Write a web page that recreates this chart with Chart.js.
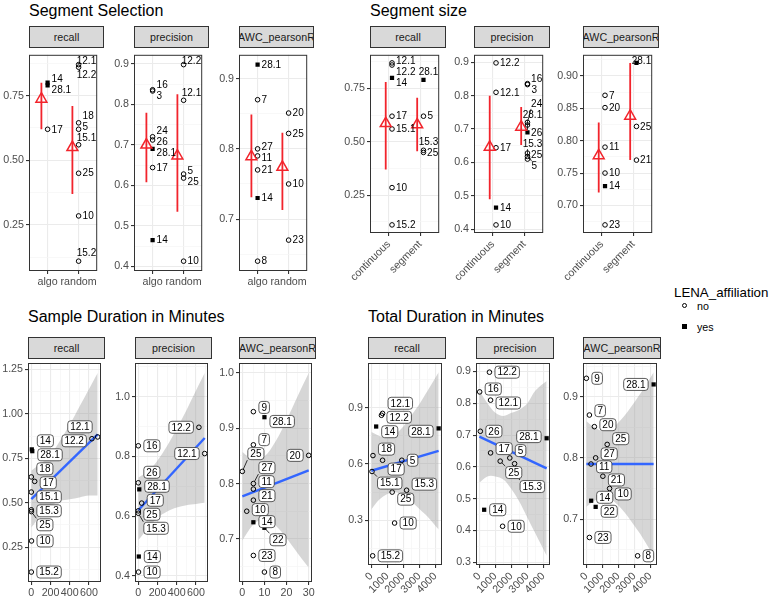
<!DOCTYPE html>
<html>
<head>
<meta charset="utf-8">
<title>LENA segment metrics</title>
<script src="https://cdn.jsdelivr.net/npm/chart.js@4.4.1/dist/chart.umd.min.js"></script>
<style>
  html, body { margin: 0; padding: 0; background: #fff; }
  body { position: relative; width: 774px; height: 598px; overflow: hidden;
         font-family: "Liberation Sans", Arial, sans-serif; }
  canvas { position: absolute; }
  .title { position: absolute; font-size: 16px; line-height: 18px; color: #000; white-space: nowrap; }
  .strip { position: absolute; box-sizing: border-box; height: 22px; background: #D9D9D9;
           border: 1px solid #333; overflow: hidden; }
  .strip span { position: absolute; left: 50%; top: 50%; transform: translate(-50%, -50%);
                font-size: 10.7px; color: #1A1A1A; white-space: nowrap; }
  .leg-title { position: absolute; left: 674px; top: 284px; font-size: 13.3px; line-height: 18px; }
  .leg-label { position: absolute; left: 697px; font-size: 10.7px; line-height: 14px; }
  .key { position: absolute; box-sizing: border-box; }
  .key.no  { width: 5px; height: 5px; border: 1px solid #000; border-radius: 50%; }
  .key.yes { width: 5px; height: 5px; background: #000; }
</style>
</head>
<body>
<div class="title" style="left:29px;top:2px">Segment Selection</div>
<div class="title" style="left:370px;top:2px">Segment size</div>
<div class="title" style="left:28px;top:308px">Sample Duration in Minutes</div>
<div class="title" style="left:368px;top:308px">Total Duration in Minutes</div>

<div class="leg-title">LENA_affiliation</div>
<div class="key no" style="left:682px;top:303px"></div>
<div class="leg-label" style="top:299px">no</div>
<div class="key yes" style="left:682px;top:324px"></div>
<div class="leg-label" style="top:320px">yes</div>

<script>
/* LENA segment metrics — four faceted plots */

// ── Data: one entry per recording file ─────────────────────
const files     = ['3','5','7','8','9','10','11','12.1','12.2','14','15.1','15.2','15.3','16','17','18','20','21','22','23','24','25','26','27','28.1'];
const lenaYes   = ['14','22','28.1'];
const recall    = [null,0.62,null,null,null,0.285,null,0.87,0.86,0.80,0.56,0.11,0.46,null,0.62,0.645,null,null,null,null,null,0.45,null,null,0.79];
const precision = [0.833,0.628,null,null,null,0.413,null,0.81,0.898,0.465,null,null,0.61,0.836,0.644,null,null,null,null,null,0.72,0.618,0.712,null,0.69];
const awcR      = [null,null,0.87,0.64,0.93,0.75,0.79,null,null,0.73,null,null,null,null,null,null,0.851,0.77,0.72,0.67,null,0.822,null,0.80,0.92];
const selection = ['algo','random','algo','algo',null,'random','algo','random','random','algo','random','random',null,'algo','algo','random','random','algo',null,'random','algo','random','algo','algo','algo'];
const segSize   = ['segment','segment','continuous',null,null,'continuous','continuous','continuous','continuous','continuous','continuous','continuous','segment','segment','continuous',null,'continuous','segment',null,'continuous','segment','segment','segment',null,'segment'];
const sampleMin = [null,null,5,10,5,2,5,690,630,5,0,0,0,0,35,0,30,5,10,5,null,0,0,5,10];
const totalMin  = [null,1900,190,3200,0,1450,290,700,630,300,40,80,2200,20,700,100,500,1030,580,190,null,1300,60,580,4200];

// ── Red summaries: [mean, lower, upper] per category ───────
const selCats        = ['algo', 'random'];
const sizeCats       = ['continuous', 'segment'];
const selRecallCI    = [[0.737, 0.62, 0.80], [0.55, 0.37, 0.71]];
const selPrecisionCI = [[0.70, 0.608, 0.779], [0.673, 0.535, 0.825]];
const selAwcCI       = [[0.789, 0.731, 0.849], [0.774, 0.713, 0.823]];
const sizeRecallCI   = [[0.586, 0.37, 0.78], [0.58, 0.456, 0.707]];
const sizePrecisionCI= [[0.646, 0.49, 0.80], [0.706, 0.652, 0.766]];
const sizeAwcCI      = [[0.777, 0.72, 0.828], [0.838, 0.77, 0.92]];

// ── Linear fits and their grey bands ───────────────────────
const sampleGrid      = [0, 100, 200, 300, 400, 500, 600, 690];
const sampleRecallFit = [0.52, 0.885];
const sampleRecallLo  = [0.36, 0.43, 0.48, 0.51, 0.52, 0.53, 0.54, 0.54];
const sampleRecallHi  = [0.68, 0.72, 0.77, 0.85, 0.94, 1.04, 1.14, 1.23];
const samplePrecFit   = [0.62, 0.862];
const samplePrecLo    = [0.52, 0.56, 0.595, 0.616, 0.629, 0.637, 0.641, 0.645];
const samplePrecHi    = [0.73, 0.75, 0.787, 0.836, 0.893, 0.955, 1.021, 1.08];
const awcSampleGrid   = [0, 5, 10, 15, 20, 25, 30];
const sampleAwcFit    = [0.777, 0.824];
const sampleAwcLo     = [0.697, 0.726, 0.736, 0.724, 0.701, 0.674, 0.648];
const sampleAwcHi     = [0.857, 0.843, 0.849, 0.876, 0.915, 0.958, 1.0];
const totalGrid       = [0, 500, 1000, 1500, 2000, 2500, 3000, 3500, 4200];
const totalRecallFit  = [0.564, 0.67];
const totalRecallLo   = [0.357, 0.41, 0.44, 0.45, 0.43, 0.40, 0.36, 0.32, 0.25];
const totalRecallHi   = [0.771, 0.75, 0.74, 0.76, 0.80, 0.86, 0.92, 0.99, 1.09];
const totalPrecFit    = [0.695, 0.595];
const totalPrecLo     = [0.55, 0.57, 0.57, 0.56, 0.53, 0.49, 0.44, 0.39, 0.32];
const totalPrecHi     = [0.84, 0.80, 0.77, 0.76, 0.77, 0.78, 0.80, 0.84, 0.87];
const totalAwcFit     = [0.79, 0.79];
const totalAwcLo      = [0.72, 0.73, 0.736, 0.733, 0.722, 0.707, 0.689, 0.67, 0.64];
const totalAwcHi      = [0.86, 0.85, 0.844, 0.847, 0.858, 0.873, 0.891, 0.91, 0.94];

// ── Tick labels ────────────────────────────────────────────
const ticksRecallTop    = ['0.25','0.50','0.75'];
const ticksPrecTop      = ['0.4','0.5','0.6','0.7','0.8','0.9'];
const ticksAwcSel       = ['0.7','0.8','0.9'];
const ticksAwcSize      = ['0.70','0.75','0.80','0.85','0.90'];
const ticksRecallSample = ['0.25','0.50','0.75','1.00','1.25'];
const ticksPrecSample   = ['0.4','0.6','0.8','1.0'];
const ticksAwcSample    = ['0.7','0.8','0.9','1.0'];
const ticksRecallTotal  = ['0.3','0.6','0.9'];
const ticksPrecTotal    = ['0.3','0.4','0.5','0.6','0.7','0.8','0.9'];
const ticksAwcTotal     = ['0.7','0.8','0.9'];
const ticksSampleMin    = ['0','200','400','600'];
const ticksSampleAwc    = ['0','10','20','30'];
const ticksTotalMin     = ['0','1000','2000','3000','4000'];

// ── Style ──────────────────────────────────────────────────
const RED    = '#F2242C';
const BLUE   = '#3366FF';
const RIBBON = 'rgba(153,153,153,0.4)';
const NONE   = 'rgba(0,0,0,0)';
Chart.defaults.font.family = '"Liberation Sans", Arial, sans-serif';

// ── Plugins ────────────────────────────────────────────────
const borderPlugin = {
  id: 'panelBorder',
  afterDraw(chart) {
    const a = chart.chartArea, ctx = chart.ctx;
    ctx.save();
    ctx.strokeStyle = '#333333';
    ctx.lineWidth = 1;
    ctx.strokeRect(a.left + 0.5, a.top + 0.5, a.right - a.left - 1, a.bottom - a.top - 1);
    ctx.restore();
  }
};

// little repel: labels right of their point, pushed apart vertically
const labelPlugin = {
  id: 'fileLabels',
  afterDatasetsDraw(chart, args, opts) {
    const ctx = chart.ctx, area = chart.chartArea, boxed = opts.boxed;
    const gap = boxed ? 5 : 4;
    ctx.save();
    ctx.font = '10px "Liberation Sans", Arial, sans-serif';
    const items = [], pts = [];
    chart.data.datasets.forEach((ds, di) => {
      if (!ds.labelled) return;
      chart.getDatasetMeta(di).data.forEach((el, k) => {
        const id = ds.data[k].id;
        const w = ctx.measureText(id).width + (boxed ? 6 : 0);
        const h = boxed ? 13 : 10;
        let x = el.x + gap, y = el.y - h / 2;
        if (x + w > area.right - 1) {
          x = area.right - 1 - w;
          if (x < el.x - w / 2) x = el.x - gap - w;      // point hugs the edge: label on the left
          else if (x < el.x + 3) y = el.y - h - 3;        // otherwise sit just above it
        }
        items.push({ text: id, px: el.x, py: el.y, w, h, x, y });
        pts.push([el.x, el.y]);
      });
    });

    for (let iter = 0; iter < 300; iter++) {
      let moved = false;
      for (let i = 0; i < items.length; i++) {
        const a = items[i];
        for (let j = i + 1; j < items.length; j++) {
          const b = items[j];
          const ox = Math.min(a.x + a.w, b.x + b.w) - Math.max(a.x, b.x) + 1;
          const oy = Math.min(a.y + a.h, b.y + b.h) - Math.max(a.y, b.y) + 1;
          if (ox > 0 && oy > 0) {
            const d = (a.y + a.h / 2) - (b.y + b.h / 2) || (a.py - b.py) || -1;
            const s = d < 0 ? -1 : 1;
            a.y += s * oy / 2;
            b.y -= s * oy / 2;
            moved = true;
          }
        }
        for (const [qx, qy] of pts) {
          if (qx > a.x - 2 && qx < a.x + a.w + 2 && qy > a.y - 2 && qy < a.y + a.h + 2) {
            a.y += qy < a.y + a.h / 2 ? 1 : -1;
            moved = true;
          }
        }
        a.y = Math.max(area.top + 1, Math.min(area.bottom - a.h - 1, a.y));
      }
      if (!moved) break;
    }

    ctx.textBaseline = 'middle';
    ctx.textAlign = 'left';
    items.forEach(it => {
      const cx = Math.max(it.x, Math.min(it.px, it.x + it.w));
      const cy = Math.max(it.y, Math.min(it.py, it.y + it.h));
      const dist = Math.hypot(cx - it.px, cy - it.py);
      if (dist > 7) {
        const f = 2.5 / dist;
        ctx.strokeStyle = '#000';
        ctx.lineWidth = 0.8;
        ctx.beginPath();
        ctx.moveTo(it.px + (cx - it.px) * f, it.py + (cy - it.py) * f);
        ctx.lineTo(cx, cy);
        ctx.stroke();
      }
      if (boxed) {
        ctx.fillStyle = '#fff';
        ctx.strokeStyle = '#333';
        ctx.lineWidth = 0.8;
        ctx.beginPath();
        ctx.roundRect(it.x + 0.5, it.y + 0.5, it.w - 1, it.h - 1, 3);
        ctx.fill();
        ctx.stroke();
      }
      ctx.fillStyle = '#000';
      ctx.fillText(it.text, it.x + (boxed ? 3 : 0), it.y + it.h / 2 + 0.5);
    });
    ctx.restore();
  }
};

// ── Helpers ────────────────────────────────────────────────
function fileRows(metric, xOf) {
  const rows = [];
  files.forEach((f, i) => {
    if (metric[i] == null || xOf[i] == null) return;
    rows.push({ id: f, xv: xOf[i], y: metric[i], yes: lenaYes.includes(f) });
  });
  return rows;
}

function pointSets(rows, toX) {
  const pick = yes => rows.filter(r => r.yes === yes).map(r => ({ x: toX(r.xv), y: r.y, id: r.id }));
  return [
    { type: 'scatter', data: pick(false), labelled: true, pointStyle: 'circle', pointRadius: 2.3,
      borderWidth: 1, borderColor: '#000', backgroundColor: NONE, order: 1 },
    { type: 'scatter', data: pick(true), labelled: true, pointStyle: 'rect', pointRadius: 3,
      borderWidth: 0, borderColor: '#000', backgroundColor: '#000', order: 1 }
  ];
}

function expand(vals) {
  const lo = Math.min(...vals), hi = Math.max(...vals), pad = (hi - lo) * 0.05;
  return [lo - pad, hi + pad];
}

function axis(ax, size, horizontal) {
  const major = ax.values;
  const all = [];
  if (ax.minor) {
    const step = (major[1] - major[0]) / 2;
    for (let v = major[0] - step; v < ax.range[1]; v += step) {
      if (v > ax.range[0]) all.push(+v.toFixed(6));
    }
  } else {
    all.push(...major);
  }
  const idx = v => major.findIndex(m => Math.abs(m - v) < 1e-9);
  const isMajor = c => idx(c.tick.value) >= 0;
  return {
    type: 'linear', min: ax.range[0], max: ax.range[1],
    afterBuildTicks: s => { s.ticks = all.map(v => ({ value: v })); },
    afterFit: s => {
      if (horizontal) s.height = size; else s.width = size;
      s.paddingLeft = s.paddingRight = s.paddingTop = s.paddingBottom = 0;
    },
    border: { display: false },
    grid: {
      color: c => isMajor(c) ? '#EBEBEB' : '#F5F5F5',
      lineWidth: c => isMajor(c) ? 1.1 : 0.7,
      tickColor: c => isMajor(c) ? '#333333' : NONE,
      tickLength: 3, drawTicks: true
    },
    ticks: {
      autoSkip: false, padding: 2, color: '#4D4D4D', font: { size: 10.7 },
      minRotation: ax.rot || 0, maxRotation: ax.rot || 0,
      callback: v => { const k = idx(v); return k < 0 ? '' : ax.labels[k]; }
    }
  };
}

function makePanel(p) {
  const [l, t, r, b] = p.box;
  const YW = 34, W = r - l, H = b - t;
  const cv = document.createElement('canvas');
  cv.width = W + YW + 1;
  cv.height = H + p.xh;
  cv.style.left = (l - YW) + 'px';
  cv.style.top = t + 'px';
  document.body.appendChild(cv);

  const strip = document.createElement('div');
  strip.className = 'strip';
  strip.style.left = l + 'px';
  strip.style.top = (t - 21) + 'px';
  strip.style.width = W + 'px';
  strip.innerHTML = '<span>' + p.strip + '</span>';
  document.body.appendChild(strip);

  new Chart(cv, {
    type: 'scatter',
    data: { datasets: p.datasets },
    options: {
      responsive: false, animation: false, events: [], devicePixelRatio: 1,
      layout: { padding: { left: 0, right: 1, top: 0, bottom: 0 } },
      plugins: { legend: { display: false }, tooltip: { enabled: false }, fileLabels: { boxed: p.boxed } },
      scales: { x: axis(p.x, p.xh, true), y: axis(p.y, YW, false) }
    },
    plugins: [borderPlugin, labelPlugin]
  });
}

function catPanel(o) {
  const rows = fileRows(o.metric, o.group);
  const sets = [];
  o.ci.forEach((s, k) => sets.push({
    type: 'line', data: [{ x: k + 1 + o.nudge.mean, y: s[1] }, { x: k + 1 + o.nudge.mean, y: s[2] }],
    borderColor: RED, borderWidth: 1.8, pointRadius: 0, order: 2
  }));
  sets.push({
    type: 'scatter', data: o.ci.map((s, k) => ({ x: k + 1 + o.nudge.mean, y: s[0] })),
    pointStyle: 'triangle', pointRadius: 6.3, borderColor: RED, borderWidth: 1.5,
    backgroundColor: NONE, order: 0
  });
  sets.push(...pointSets(rows, g => o.cats.indexOf(g) + 1 + o.nudge.pt));
  makePanel({
    box: o.box, xh: o.xh, strip: o.strip, datasets: sets, boxed: false,
    x: { values: [1, 2], labels: o.cats, range: [0.4, 2.6], minor: false, rot: o.rot },
    y: { values: o.yTicks.map(Number), labels: o.yTicks, minor: true,
         range: expand(rows.map(r => r.y).concat(o.ci.flat())) }
  });
}

function fitPanel(o) {
  const rows = fileRows(o.metric, o.xv);
  const last = o.grid.length - 1;
  const sets = [
    { type: 'line', data: o.grid.map((x, k) => ({ x, y: o.hi[k] })), borderWidth: 0, borderColor: NONE,
      pointRadius: 0, fill: false, tension: 0.35, order: 3 },
    { type: 'line', data: o.grid.map((x, k) => ({ x, y: o.lo[k] })), borderWidth: 0, borderColor: NONE,
      pointRadius: 0, fill: '-1', backgroundColor: RIBBON, tension: 0.35, order: 3 },
    { type: 'line', data: [{ x: o.grid[0], y: o.fit[0] }, { x: o.grid[last], y: o.fit[1] }],
      borderColor: BLUE, borderWidth: 2.4, pointRadius: 0, order: 2 },
    ...pointSets(rows, x => x)
  ];
  makePanel({
    box: o.box, xh: o.xh, strip: o.strip, datasets: sets, boxed: true,
    x: { values: o.xTicks.map(Number), labels: o.xTicks, minor: true, rot: o.rot,
         range: expand(rows.map(r => r.xv).concat(o.grid)) },
    y: { values: o.yTicks.map(Number), labels: o.yTicks, minor: true,
         range: expand(rows.map(r => r.y).concat(o.lo, o.hi)) }
  });
}

// ── Segment Selection ──────────────────────────────────────
const selNudge = { pt: 0, mean: -0.2 };
catPanel({ box: [29, 47, 104, 271], xh: 30, strip: 'recall', metric: recall, group: selection,
  cats: selCats, ci: selRecallCI, yTicks: ticksRecallTop, nudge: selNudge });
catPanel({ box: [134, 47, 209, 271], xh: 30, strip: 'precision', metric: precision, group: selection,
  cats: selCats, ci: selPrecisionCI, yTicks: ticksPrecTop, nudge: selNudge });
catPanel({ box: [239, 47, 314, 271], xh: 30, strip: 'AWC_pearsonR', metric: awcR, group: selection,
  cats: selCats, ci: selAwcCI, yTicks: ticksAwcSel, nudge: selNudge });

// ── Segment size ───────────────────────────────────────────
const sizeNudge = { pt: 0.1, mean: -0.1 };
catPanel({ box: [370, 47, 446, 233], xh: 60, rot: 45, strip: 'recall', metric: recall, group: segSize,
  cats: sizeCats, ci: sizeRecallCI, yTicks: ticksRecallTop, nudge: sizeNudge });
catPanel({ box: [474, 47, 550, 233], xh: 60, rot: 45, strip: 'precision', metric: precision, group: segSize,
  cats: sizeCats, ci: sizePrecisionCI, yTicks: ticksPrecTop, nudge: sizeNudge });
catPanel({ box: [583, 47, 659, 233], xh: 60, rot: 45, strip: 'AWC_pearsonR', metric: awcR, group: segSize,
  cats: sizeCats, ci: sizeAwcCI, yTicks: ticksAwcSize, nudge: sizeNudge });

// ── Sample Duration in Minutes ─────────────────────────────
fitPanel({ box: [28, 358, 105, 582], xh: 16, strip: 'recall', metric: recall, xv: sampleMin,
  grid: sampleGrid, fit: sampleRecallFit, lo: sampleRecallLo, hi: sampleRecallHi,
  xTicks: ticksSampleMin, yTicks: ticksRecallSample });
fitPanel({ box: [135, 358, 212, 582], xh: 16, strip: 'precision', metric: precision, xv: sampleMin,
  grid: sampleGrid, fit: samplePrecFit, lo: samplePrecLo, hi: samplePrecHi,
  xTicks: ticksSampleMin, yTicks: ticksPrecSample });
fitPanel({ box: [239, 358, 316, 582], xh: 16, strip: 'AWC_pearsonR', metric: awcR, xv: sampleMin,
  grid: awcSampleGrid, fit: sampleAwcFit, lo: sampleAwcLo, hi: sampleAwcHi,
  xTicks: ticksSampleAwc, yTicks: ticksAwcSample });

// ── Total Duration in Minutes ──────────────────────────────
fitPanel({ box: [368, 358, 446, 565], xh: 33, rot: 45, strip: 'recall', metric: recall, xv: totalMin,
  grid: totalGrid, fit: totalRecallFit, lo: totalRecallLo, hi: totalRecallHi,
  xTicks: ticksTotalMin, yTicks: ticksRecallTotal });
fitPanel({ box: [476, 358, 554, 565], xh: 33, rot: 45, strip: 'precision', metric: precision, xv: totalMin,
  grid: totalGrid, fit: totalPrecFit, lo: totalPrecLo, hi: totalPrecHi,
  xTicks: ticksTotalMin, yTicks: ticksPrecTotal });
fitPanel({ box: [583, 358, 661, 565], xh: 33, rot: 45, strip: 'AWC_pearsonR', metric: awcR, xv: totalMin,
  grid: totalGrid, fit: totalAwcFit, lo: totalAwcLo, hi: totalAwcHi,
  xTicks: ticksTotalMin, yTicks: ticksAwcTotal });
</script>
</body>
</html>
